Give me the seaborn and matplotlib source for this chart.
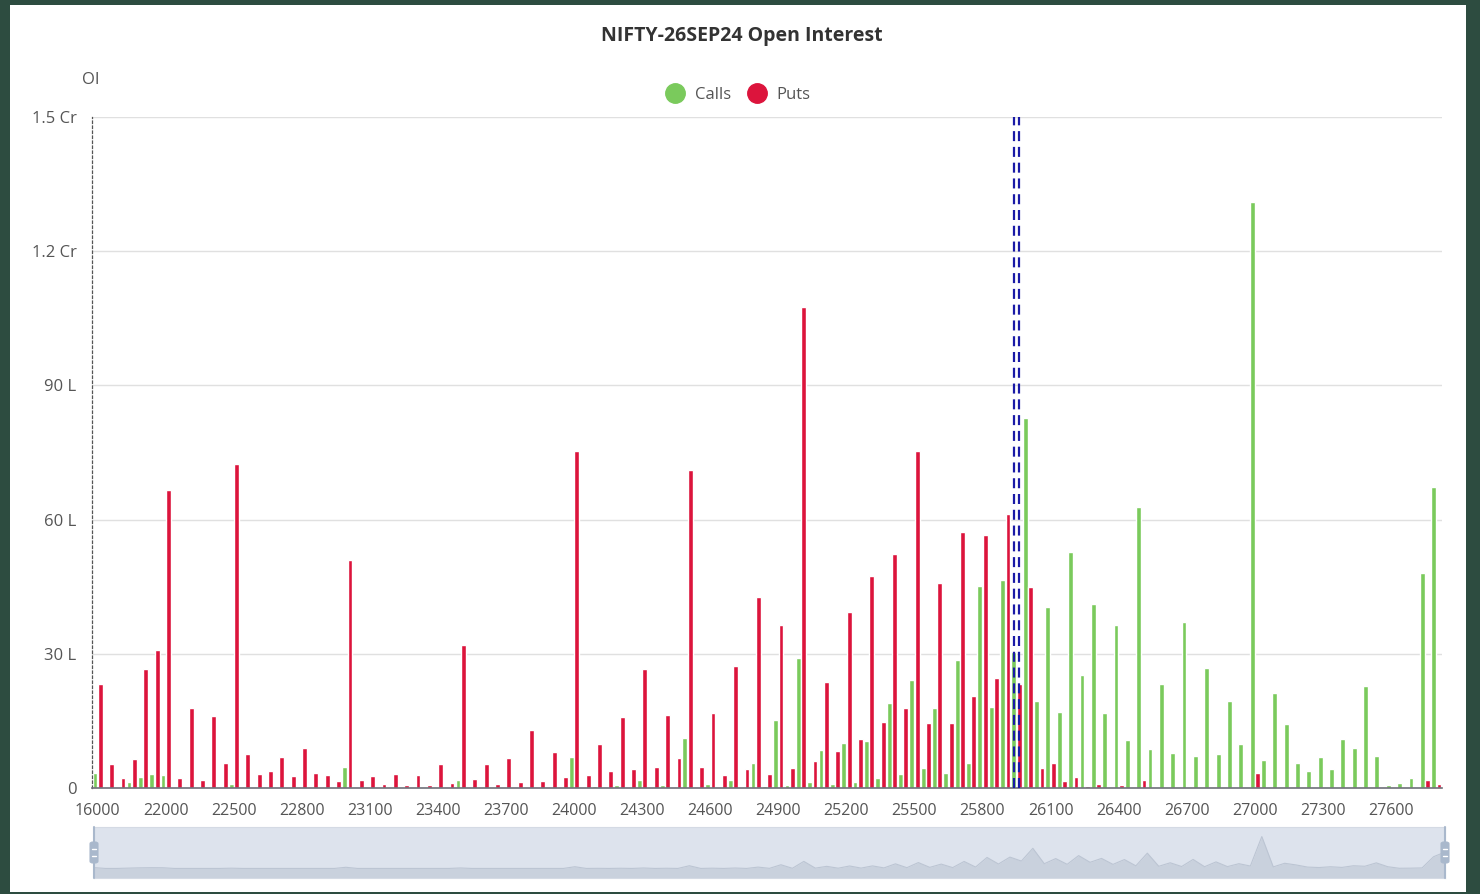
import matplotlib.pyplot as plt
import numpy as np
import pandas as pd
import seaborn as sns
from matplotlib.lines import Line2D
from matplotlib.patches import Rectangle, FancyBboxPatch

# strike categories (first few are sparse, then every 50 points)
strikes = [16000, 18000, 20000, 21000, 21500, 21800, 22000,
           22100, 22200, 22300, 22400, 22450] + list(range(22500, 27850, 50))

# open interest in lakhs
calls = [
    3.4, 0, 0, 1.3, 2.5, 3.1, 2.8, 0, 0, 0,
    0, 0, 1.0, 0, 0, 0, 0, 0, 0, 0,
    0, 0, 4.8, 0, 0, 0, 0, 0, 0, 0,
    0, 0, 1.9, 0, 0, 0, 0, 0, 0, 0,
    0, 0, 7.0, 0, 0.4, 0, 0.7, 0, 1.8, 0,
    0.7, 0, 11.1, 0, 1.0, 0, 1.7, 0, 5.5, 0.4,
    15.1, 0.6, 29.0, 1.3, 8.6, 1.0, 10.1, 1.4, 10.4, 2.2,
    18.9, 3.1, 24.1, 4.4, 17.8, 3.4, 28.7, 5.7, 45.2, 18.2,
    46.6, 30.3, 82.7, 19.4, 40.5, 16.9, 52.8, 25.2, 41.2, 16.7,
    36.4, 10.7, 62.8, 8.8, 23.2, 7.9, 37.0, 7.1, 26.8, 7.5,
    19.5, 9.9, 131.0, 6.3, 21.2, 14.3, 5.5, 3.7, 6.9, 4.2,
    11.0, 8.9, 22.9, 7.1, 0.7, 1.1, 2.2, 48.1, 67.3,
]
puts = [
    23.2, 5.4, 2.3, 6.5, 26.6, 30.9, 66.6, 2.2, 17.8, 1.8,
    16.0, 5.5, 72.4, 7.7, 3.1, 3.9, 6.9, 2.6, 8.9, 3.4,
    2.8, 1.6, 51.0, 1.9, 2.7, 0.8, 3.1, 0.7, 2.8, 0.6,
    5.4, 1.1, 32.0, 2.1, 5.3, 1.0, 6.6, 1.3, 12.9, 1.5,
    8.0, 2.5, 75.3, 2.9, 9.8, 3.7, 15.9, 4.2, 26.5, 4.8,
    16.3, 6.6, 71.1, 4.7, 16.7, 2.8, 27.3, 4.2, 42.6, 3.2,
    36.5, 4.5, 107.5, 6.1, 23.6, 8.2, 39.3, 10.9, 47.4, 14.8,
    52.3, 17.9, 75.3, 14.6, 45.8, 14.6, 57.2, 20.5, 56.6, 24.6,
    61.3, 23.2, 44.9, 4.4, 5.5, 1.6, 2.5, 0.4, 1.0, 0.1,
    0.6, 0.1, 1.8, 0, 0, 0, 0.1, 0, 0, 0,
    0, 0, 3.3, 0, 0, 0, 0, 0, 0, 0,
    0, 0, 0, 0, 0, 0, 0, 1.8, 1.0,
]
spot_strike = 25950

y_ticks = [0, 30, 60, 90, 120, 150]
y_tick_labels = ["0", "30 L", "60 L", "90 L", "1.2 Cr", "1.5 Cr"]

CALL_COLOR = "#7aca5c"
PUT_COLOR = "#dc143c"
AXIS_COLOR = "#6e7079"
TEXT_COLOR = "#555555"

sns.set_style("white")
plt.rcParams["font.family"] = ["Open Sans", "DejaVu Sans"]

labels = [str(s) for s in strikes]
df = pd.DataFrame({
    "strike": labels * 2,
    "oi": calls + puts,
    "type": ["Calls"] * len(strikes) + ["Puts"] * len(strikes),
})

W, H = 1480, 894
fig = plt.figure(figsize=(W / 100, H / 100), dpi=100)
ax = fig.add_axes([92 / W, 106 / H, 1350 / W, 671 / H])

sns.barplot(
    data=df, x="strike", y="oi", hue="type", order=labels,
    hue_order=["Calls", "Puts"], palette=[CALL_COLOR, PUT_COLOR],
    width=0.95, gap=0.1, errorbar=None, legend=False, ax=ax,
    saturation=1,
)

n = len(strikes)
ax.set_xlim(-0.5, n - 0.5)
ax.set_ylim(0, 150)
ax.set_xlabel("")
ax.set_ylabel("")

# x labels on every 6th category, ticks on the category boundaries
ax.set_xticks(range(0, n, 6))
ax.set_xticklabels(labels[::6])
ax.set_xticks([i - 0.5 for i in range(0, n, 6)] + [n - 0.5], minor=True)
ax.tick_params(axis="x", which="major", length=0, pad=11, labelsize=11.5,
               labelcolor=TEXT_COLOR)
ax.tick_params(axis="x", which="minor", length=5, width=1, color=AXIS_COLOR)

ax.set_yticks(y_ticks)
ax.set_yticklabels(y_tick_labels)
ax.tick_params(axis="y", length=5, width=1, color=AXIS_COLOR, pad=6,
               labelsize=12, labelcolor=TEXT_COLOR)

ax.yaxis.grid(True, color="#e0e0e0", lw=1)
ax.xaxis.grid(False)
ax.set_axisbelow(True)

for side in ["top", "right"]:
    ax.spines[side].set_visible(False)
ax.spines["bottom"].set_color(AXIS_COLOR)
ax.spines["bottom"].set_linewidth(1.2)
ax.spines["left"].set_color("#555555")
ax.spines["left"].set_linestyle((0, (2, 2)))
ax.spines["left"].set_linewidth(0.9)

# spot marker: double dashed line
spot_idx = strikes.index(spot_strike)
for off in (-0.22, 0.22):
    ax.axvline(spot_idx + off, color="#1a1aa6", lw=1.6,
               ls=(0, (4.5, 2.6)), zorder=5)

fig.text(91 / W, 1 - 80 / H, "OI", ha="center", va="center",
         fontsize=12, color=TEXT_COLOR)

fig.text(742 / W, 1 - 36 / H, "NIFTY-26SEP24 Open Interest", ha="center",
         va="center", fontsize=14, fontweight="bold", color="#333333")

handles = [
    Line2D([], [], marker="o", ls="none", markersize=14, color=CALL_COLOR),
    Line2D([], [], marker="o", ls="none", markersize=14, color=PUT_COLOR),
]
fig.legend(handles, ["Calls", "Puts"], loc="center",
           bbox_to_anchor=(738 / W, 1 - 95 / H), ncol=2, frameon=False,
           fontsize=12, handletextpad=0.6, columnspacing=0.9,
           labelcolor=TEXT_COLOR, handlelength=1.2)

# data zoom slider with shadow of the calls series
sl = fig.add_axes([94 / W, 16 / H, 1351 / W, 51 / H])
rng = max(calls) - min(calls)
xs = np.arange(n)
sl.fill_between(xs, min(calls) - 0.3 * rng, calls, color="#c9d1dd", lw=0)
sl.plot(xs, calls, color="#bcc5d3", lw=0.8)
sl.set_xlim(0, n - 1)
sl.set_ylim(min(calls) - 0.3 * rng, max(calls) + 0.3 * rng)
sl.set_facecolor("#dde3ed")
sl.set_xticks([])
sl.set_yticks([])
for sp in sl.spines.values():
    sp.set_color("#d4dae4")
    sp.set_linewidth(0.8)

handle_color = "#a9b8cc"
for hx in (94, 1445):
    fig.add_artist(Line2D([hx / W, hx / W], [16 / H, 67 / H], color=handle_color,
                          lw=1.5, transform=fig.transFigure))
    fig.add_artist(FancyBboxPatch(((hx - 4) / W, 31 / H), 8 / W, 21 / H,
                                  boxstyle="round,pad=0,rounding_size=0.002",
                                  transform=fig.transFigure, fc=handle_color,
                                  ec=handle_color, lw=0.8))
    for yy in (38, 45):
        fig.add_artist(Line2D([(hx - 2) / W, (hx + 2) / W], [yy / H, yy / H],
                              color="white", lw=1, transform=fig.transFigure))

# dark frame around the picture
frame = "#2d4c40"
for rect in [(0, 0, 10, H), (1466, 0, W - 1466, H), (0, 0, W, 2), (0, H - 5, W, 5)]:
    x0, y0, w, h = rect
    fig.add_artist(Rectangle((x0 / W, y0 / H), w / W, h / H, color=frame,
                             transform=fig.transFigure, lw=0))

fig.savefig("out.png", dpi=100)
